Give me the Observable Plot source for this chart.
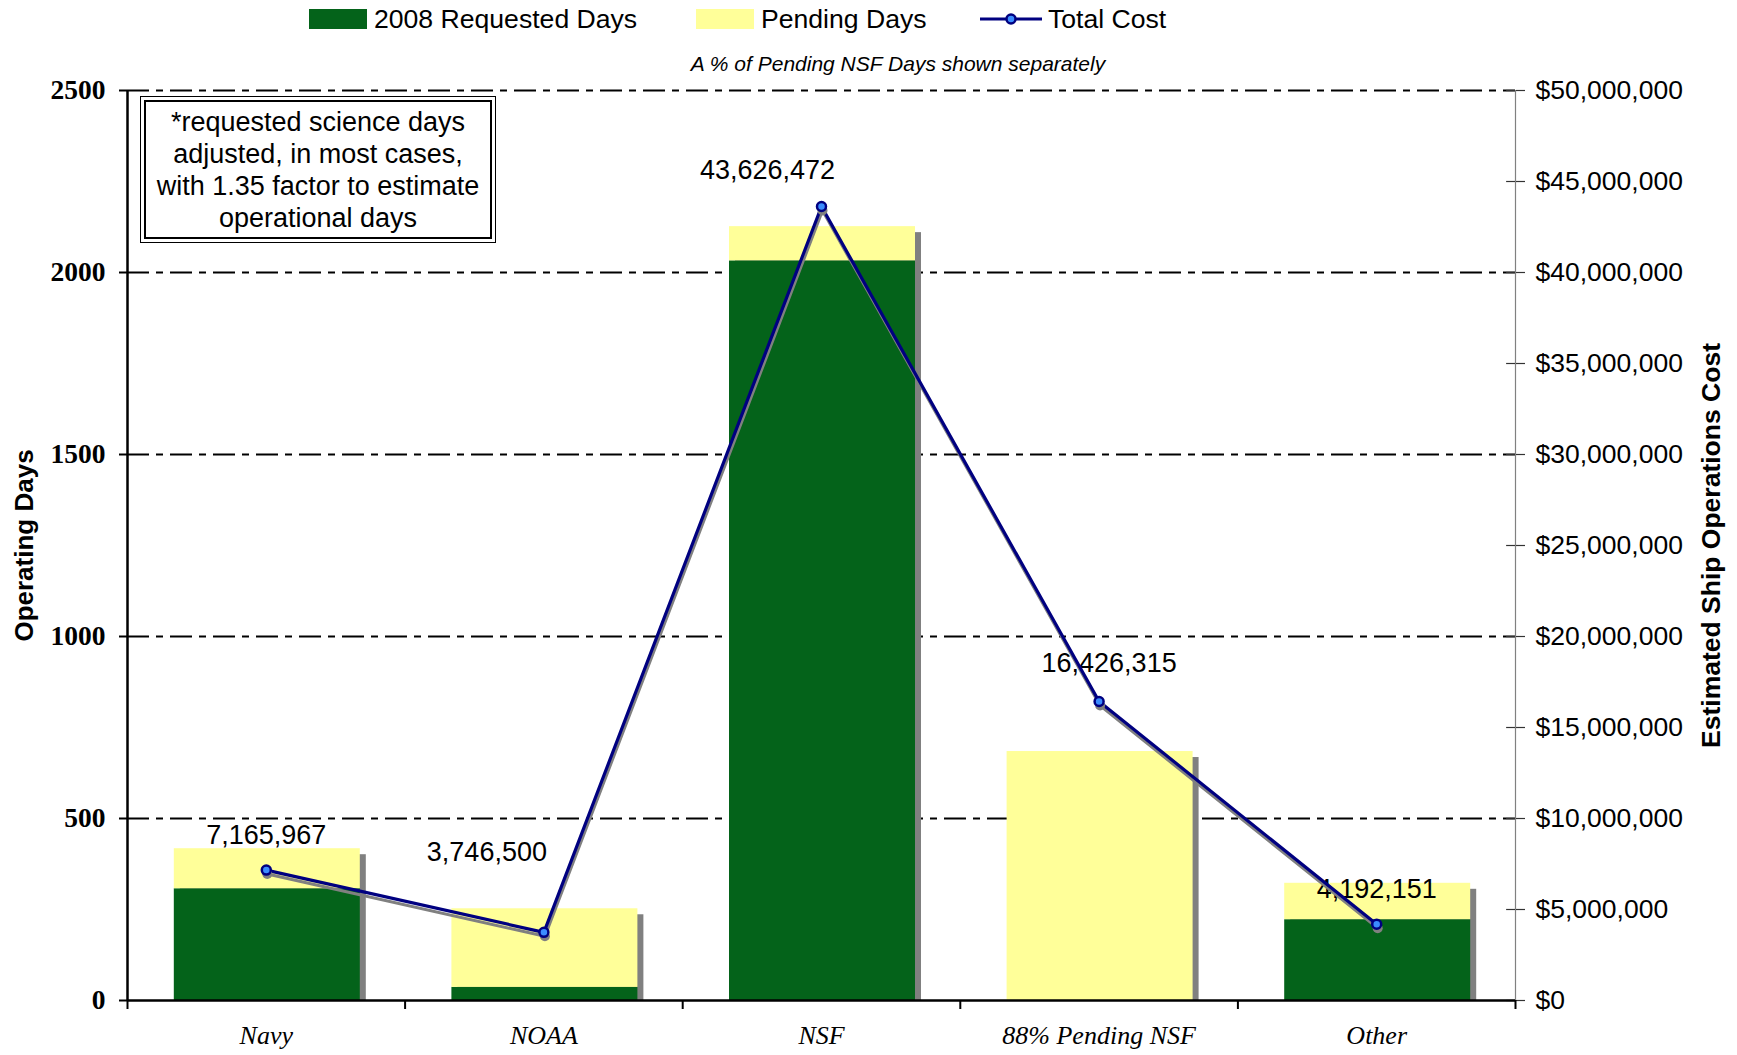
<!DOCTYPE html>
<html><head><meta charset="utf-8">
<script src="https://cdn.jsdelivr.net/npm/d3@7"></script>
<script src="https://cdn.jsdelivr.net/npm/@observablehq/plot@0.6"></script>
<style>
body{margin:0;background:#fff;}
#wrap{position:relative;width:1737px;height:1055px;font-family:"Liberation Sans",Arial,sans-serif;color:#000;overflow:hidden;}
#header{position:relative;height:72px;}
.sw{position:absolute;top:9px;width:58px;height:20px;}
.lt{position:absolute;top:19px;transform:translateY(-50%);font-size:26.6px;line-height:1;white-space:nowrap;}
#sub{position:absolute;left:0;width:1796px;text-align:center;top:63px;transform:translateY(-50%);font-size:21px;font-style:italic;line-height:1;}
#note{position:absolute;left:140px;top:96px;width:356px;height:147px;box-sizing:border-box;border:1px solid #000;background:#fff;}
#note .in{position:absolute;left:3px;top:3px;right:3px;bottom:3px;border:2px solid #000;display:flex;align-items:center;justify-content:center;text-align:center;font-size:27px;line-height:32px;white-space:nowrap;}
#chart svg{display:block;}
</style></head>
<body>
<div id="wrap">
  <div id="header">
    <div class="sw" style="left:309px;background:#04631a"></div>
    <div class="lt" style="left:374px">2008 Requested Days</div>
    <div class="sw" style="left:696px;background:#ffff99"></div>
    <div class="lt" style="left:761px">Pending Days</div>
    <svg style="position:absolute;left:978px;top:9px" width="66" height="20"><line x1="2" y1="10" x2="64" y2="10" stroke="#000080" stroke-width="3"/><circle cx="33" cy="10" r="4.5" fill="#3b8cff" stroke="#000080" stroke-width="2.5"/></svg>
    <div class="lt" style="left:1048px">Total Cost</div>
    <div id="sub">A % of Pending NSF Days shown separately</div>
  </div>
  <div id="chart"></div>
  <div id="note"><div class="in">*requested science days<br>adjusted, in most cases,<br>with 1.35 factor to estimate<br>operational days</div></div>
</div>
<script>
const categories = ["Navy", "NOAA", "NSF", "88% Pending NSF", "Other"];
const requestedDays = [307, 36, 2032, 0, 222];
const pendingDays = [110, 216, 94, 684, 100];
const totalCost = [7165967, 3746500, 43626472, 16426315, 4192151];
const leftTicks = [0, 500, 1000, 1500, 2000, 2500];
const rightTicks = [0, 5e6, 10e6, 15e6, 20e6, 25e6, 30e6, 35e6, 40e6, 45e6, 50e6];
const costPerDayUnit = 50e6 / 2500; // right axis max / left axis max

const rows = categories.map((c, i) => ({
  i, c,
  req: requestedDays[i],
  total: requestedDays[i] + pendingDays[i],
  cost: totalCost[i],
  costY: totalCost[i] / costPerDayUnit
}));
const hw = 0.335;
const fmt = d3.format(",");
const SANS = "Liberation Sans, Arial, sans-serif";
const SERIF = "Liberation Serif, Times New Roman, serif";
const navy = "#000080";

const labelSet = (filter, dx, dy) => Plot.text(rows.filter(filter), {
  x: "i", y: "costY", text: d => fmt(d.cost), dx, dy,
  fontSize: 27, fontFamily: SANS, fill: "#000"
});

const plot = Plot.plot({
  width: 1737, height: 983,
  marginTop: 18, marginBottom: 55, marginLeft: 127, marginRight: 222,
  x: {type: "linear", domain: [-0.5, 4.5], axis: null},
  y: {domain: [0, 2500], axis: null},
  style: {background: "transparent", fontFamily: SANS},
  marks: [
    Plot.gridY({ticks: leftTicks.filter(t => t > 0), stroke: "#000", strokeOpacity: 1, strokeWidth: 2, strokeDasharray: "22,7,7,7"}),
    Plot.rectY(rows, {x1: d => d.i - hw, x2: d => d.i + hw, y1: 0, y2: "total", fill: "#808080", dx: 7, dy: 6, clip: "frame"}),
    Plot.rectY(rows, {x1: d => d.i - hw, x2: d => d.i + hw, y1: 0, y2: "req", fill: "#04631a", dx: 1}),
    Plot.rectY(rows, {x1: d => d.i - hw, x2: d => d.i + hw, y1: "req", y2: "total", fill: "#ffff99", dx: 1}),
    Plot.ruleX([4.5], {stroke: "#808080", strokeWidth: 1.2}),
    Plot.ruleY(rightTicks.map(t => t / costPerDayUnit), {x1: 4.5 - 0.032, x2: 4.5, stroke: "#333", strokeWidth: 1.2}),
    Plot.axisY({anchor: "right", ticks: rightTicks.map(t => t / costPerDayUnit), tickFormat: d => "$" + fmt(Math.round(d * costPerDayUnit)), tickSize: 9, tickPadding: 11, stroke: "#333", strokeWidth: 1.2, fontSize: 26.5, fontFamily: SANS, fill: "#000", label: null}),
    Plot.ruleY([0], {stroke: "#000", strokeWidth: 2.5}),
    Plot.ruleX([-0.5], {stroke: "#000", strokeWidth: 2.5}),
    Plot.axisX({ticks: [-0.5, 0.5, 1.5, 2.5, 3.5, 4.5], tickFormat: () => "", tickSize: 9, stroke: "#000", strokeWidth: 2, label: null}),
    Plot.axisX({ticks: [0, 1, 2, 3, 4], tickFormat: i => categories[i], tickSize: 0, tickPadding: 25, fontSize: 26, fontFamily: SERIF, fontStyle: "italic", fill: "#000", label: null}),
    Plot.axisY({anchor: "left", ticks: leftTicks, tickFormat: d => String(d), tickSize: 8, tickPadding: 14, stroke: "#000", strokeWidth: 2, fontSize: 27.5, fontFamily: SERIF, fontWeight: "bold", fill: "#000", label: null}),
    labelSet(d => d.c === "Navy" || d.c === "Other", 0, -35),
    labelSet(d => d.c === "NOAA", -57, -80),
    labelSet(d => d.c === "NSF", -54, -36),
    labelSet(d => d.c === "88% Pending NSF", 10, -38),
    Plot.line(rows, {x: "i", y: "costY", stroke: "#808080", strokeWidth: 3, dx: 1, dy: 4}),
    Plot.line(rows, {x: "i", y: "costY", stroke: navy, strokeWidth: 3.2}),
    Plot.dot(rows, {x: "i", y: "costY", r: 5, fill: "#808080", dx: 1, dy: 4}),
    Plot.dot(rows, {x: "i", y: "costY", r: 4.5, fill: "#3b8cff", stroke: navy, strokeWidth: 2.5}),
    Plot.text(["Operating Days"], {frameAnchor: "left", textAnchor: "middle", rotate: -90, dx: -103, fontSize: 26, fontWeight: "bold", fontFamily: SANS, fill: "#000"}),
    Plot.text(["Estimated Ship Operations Cost"], {frameAnchor: "right", textAnchor: "middle", rotate: -90, dx: 196, fontSize: 26.5, fontWeight: "bold", fontFamily: SANS, fill: "#000"})
  ]
});
document.getElementById("chart").appendChild(plot);
</script>
</body></html>
